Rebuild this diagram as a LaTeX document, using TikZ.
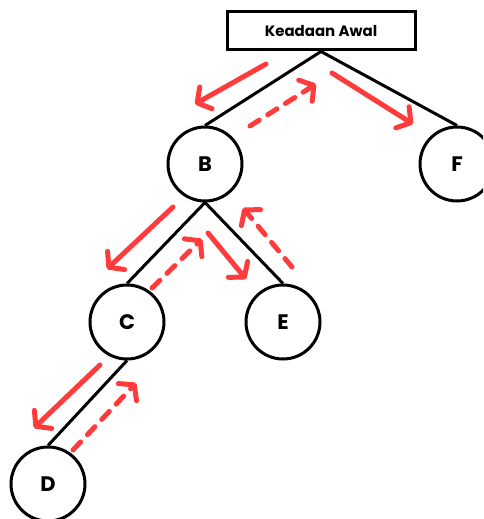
\documentclass[tikz,border=0pt]{standalone}
\usepackage{fontspec}
\setsansfont{Poppins}
\usetikzlibrary{arrows.meta}
\definecolor{trail}{HTML}{FF3B3B}
\tikzset{
  vertex/.style={circle, draw=black, line width=3pt, minimum size=74pt, inner sep=0pt,
    font=\sffamily\bfseries\fontsize{21}{21}\selectfont},
  rootbox/.style={rectangle, draw=black, line width=3pt, minimum width=188pt, minimum height=38pt,
    inner sep=0pt, font=\sffamily\bfseries\fontsize{15}{15}\selectfont},
  branch/.style={draw=black, line width=3pt},
  go/.style={draw=trail, line width=5pt, line cap=round,
    -{Straight Barb[length=10pt, width=25pt, line width=5pt, round]}},
  back/.style={go, dash pattern=on 11pt off 10pt},
}
\begin{document}
\begin{tikzpicture}[x=1pt, y=-1pt]
  \useasboundingbox (0,0) rectangle (483,519);
  \clip (0,0) rectangle (483,519);
  % tree
  \node[rootbox] (root) at (321,31) {Keadaan Awal};
  \node[vertex] (B) at (205,164) {B};
  \node[vertex] (F) at (457,164) {F};
  \node[vertex] (C) at (127,322) {C};
  \node[vertex] (E) at (283,322) {E};
  \node[vertex] (D) at (48,484) {D};
  \draw[branch] (B.north) -- (root.south) -- (F.north);
  \draw[branch] (C.north) -- (B.south) -- (E.north);
  \draw[branch] (D.north) -- (C.south);
  % search trail: descending (solid) and backtracking (dashed)
  \coordinate (a1) at (266,64);  \coordinate (a2) at (195,104);
  \coordinate (b1) at (250,126); \coordinate (b2) at (316,84);
  \coordinate (c1) at (332,73);  \coordinate (c2) at (413,124);
  \coordinate (d1) at (173,207); \coordinate (d2) at (107,269);
  \coordinate (e1) at (152,288); \coordinate (e2) at (202,239);
  \coordinate (f1) at (208,233); \coordinate (f2) at (246,279);
  \coordinate (g1) at (292,267); \coordinate (g2) at (243,208);
  \coordinate (h1) at (100,365); \coordinate (h2) at (34,428);
  \coordinate (i1) at (73,450);  \coordinate (i2) at (136,383);
  \draw[go] (a1) -- (a2);
  \draw[back] (b1) -- (b2);
  \draw[go] (c1) -- (c2);
  \draw[go] (d1) -- (d2);
  \draw[back] (e1) -- (e2);
  \draw[go] (f1) -- (f2);
  \draw[back] (g1) -- (g2);
  \draw[go] (h1) -- (h2);
  \draw[back] (i1) -- (i2);
\end{tikzpicture}
\end{document}
